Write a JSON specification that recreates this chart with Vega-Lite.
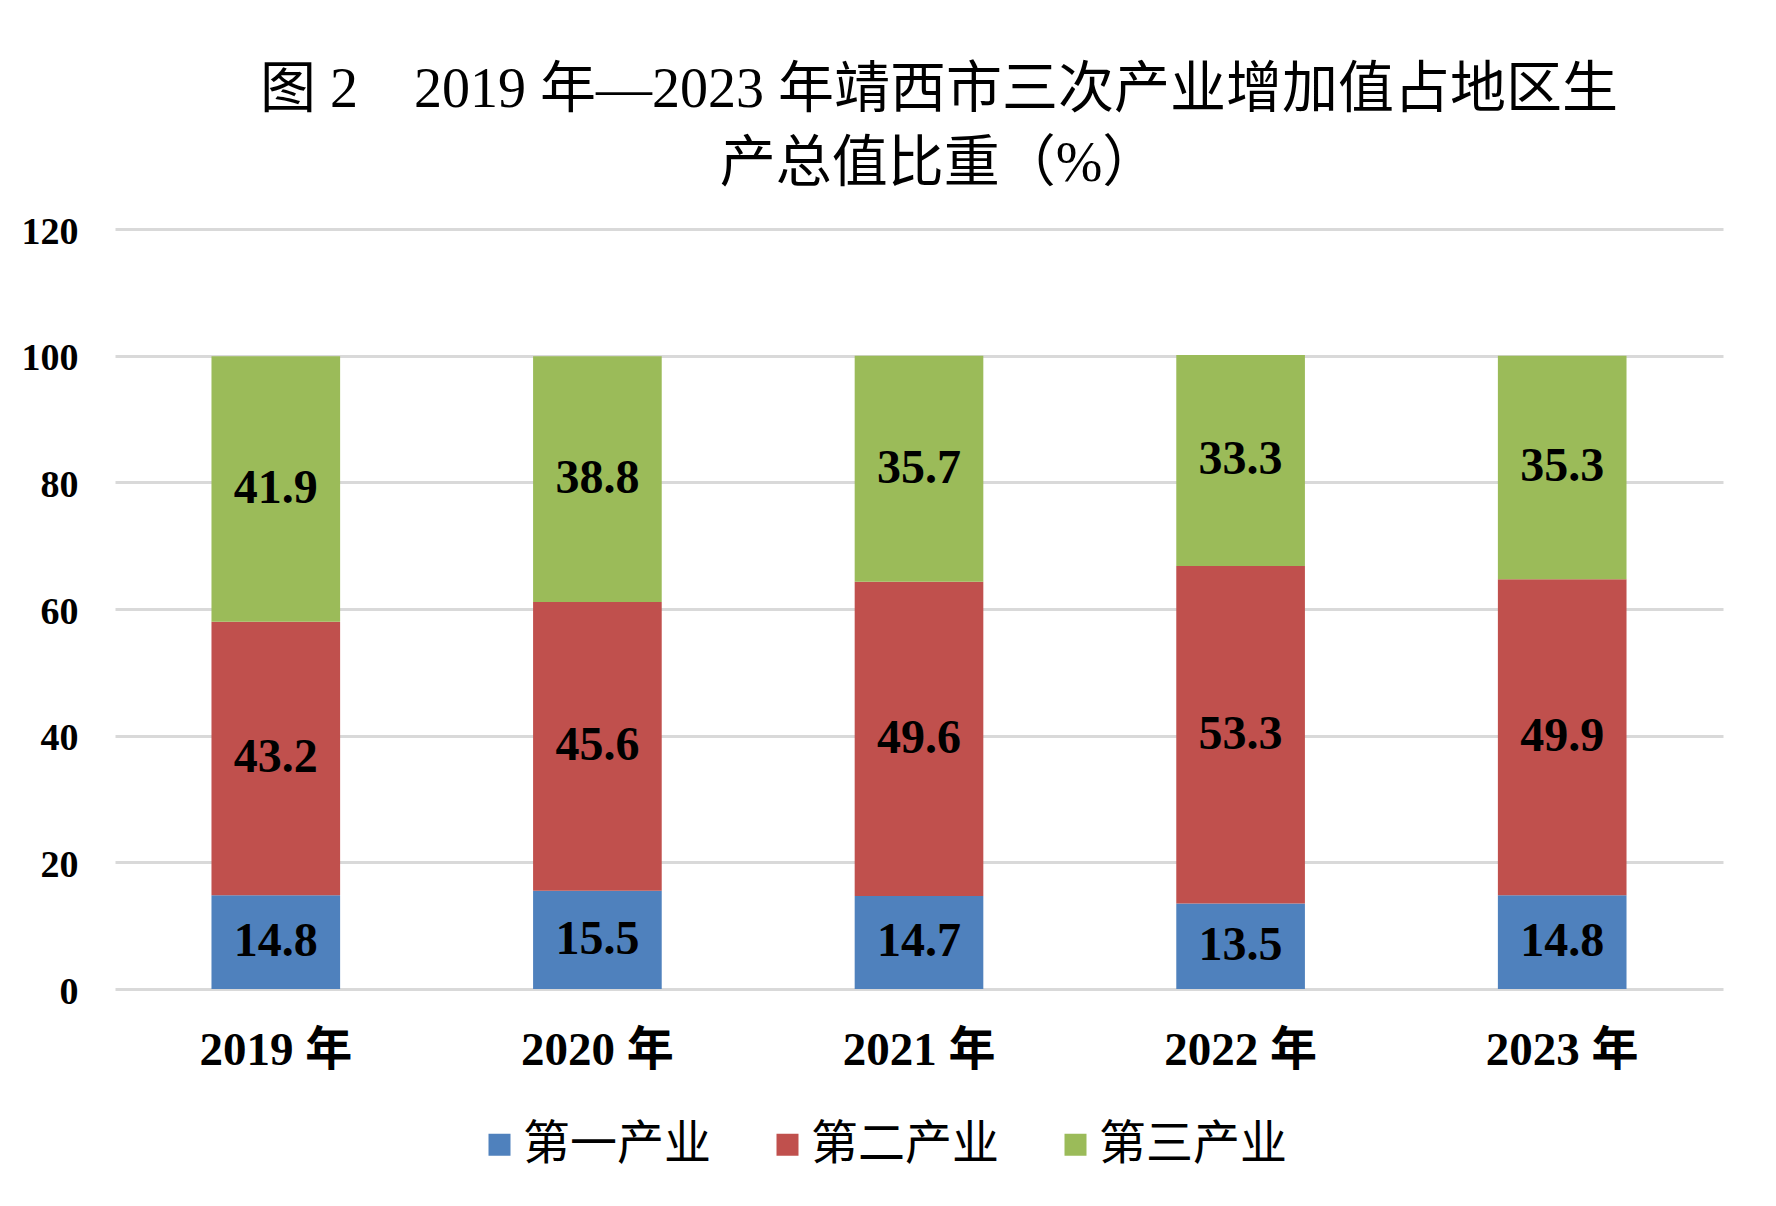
{
  "$schema": "https://vega.github.io/schema/vega-lite/v6.json",
  "autosize": "none",
  "width": 1608,
  "height": 760,
  "padding": {"left": 115, "top": 229, "right": 53, "bottom": 217},
  "background": "white",
  "title": {
    "text": ["图 2　2019 年—2023 年靖西市三次产业增加值占地区生", "产总值比重（%）"],
    "font": "Liberation Serif, Noto Sans CJK SC",
    "fontSize": 56,
    "fontWeight": "normal",
    "color": "black",
    "lineHeight": 74,
    "offset": 20,
    "anchor": "middle",
    "dx": 20
  },
  "data": {
    "values": [
      {"year": "2019 年", "industry": "第一产业", "idx": 1, "value": 14.8},
      {"year": "2019 年", "industry": "第二产业", "idx": 2, "value": 43.2},
      {"year": "2019 年", "industry": "第三产业", "idx": 3, "value": 41.9},
      {"year": "2020 年", "industry": "第一产业", "idx": 1, "value": 15.5},
      {"year": "2020 年", "industry": "第二产业", "idx": 2, "value": 45.6},
      {"year": "2020 年", "industry": "第三产业", "idx": 3, "value": 38.8},
      {"year": "2021 年", "industry": "第一产业", "idx": 1, "value": 14.7},
      {"year": "2021 年", "industry": "第二产业", "idx": 2, "value": 49.6},
      {"year": "2021 年", "industry": "第三产业", "idx": 3, "value": 35.7},
      {"year": "2022 年", "industry": "第一产业", "idx": 1, "value": 13.5},
      {"year": "2022 年", "industry": "第二产业", "idx": 2, "value": 53.3},
      {"year": "2022 年", "industry": "第三产业", "idx": 3, "value": 33.3},
      {"year": "2023 年", "industry": "第一产业", "idx": 1, "value": 14.8},
      {"year": "2023 年", "industry": "第二产业", "idx": 2, "value": 49.9},
      {"year": "2023 年", "industry": "第三产业", "idx": 3, "value": 35.3}
    ]
  },
  "encoding": {
    "x": {
      "field": "year",
      "type": "nominal",
      "sort": null,
      "scale": {"paddingInner": 0.6, "paddingOuter": 0.3},
      "axis": {
        "title": null,
        "labelAngle": 0,
        "labelFont": "Liberation Serif, Noto Sans CJK SC",
        "labelFontSize": 47,
        "labelFontWeight": "bold",
        "labelColor": "black",
        "labelPadding": 38,
        "ticks": false,
        "domain": false
      }
    }
  },
  "layer": [
    {
      "mark": {"type": "bar"},
      "encoding": {
        "y": {
          "field": "value",
          "type": "quantitative",
          "stack": "zero",
          "scale": {"domain": [0, 120]},
          "axis": {
            "title": null,
            "values": [0, 20, 40, 60, 80, 100, 120],
            "labelFont": "Liberation Serif",
            "labelFontSize": 38,
            "labelFontWeight": "bold",
            "labelColor": "black",
            "labelPadding": 37,
            "labelOffset": 3,
            "ticks": false,
            "domain": false,
            "grid": true,
            "gridColor": "#d9d9d9",
            "gridWidth": 3
          }
        },
        "color": {
          "field": "industry",
          "type": "nominal",
          "sort": ["第一产业", "第二产业", "第三产业"],
          "scale": {
            "domain": ["第一产业", "第二产业", "第三产业"],
            "range": ["#4f81bd", "#c0504d", "#9bbb59"]
          },
          "legend": {
            "title": null,
            "orient": "none",
            "direction": "horizontal",
            "legendX": 361,
            "legendY": 892,
            "padding": 0,
            "symbolType": "square",
            "symbolSize": 484,
            "symbolStrokeWidth": 0,
            "symbolOpacity": 1,
            "labelFont": "Noto Sans CJK SC",
            "labelFontSize": 47,
            "labelColor": "black",
            "labelOffset": 0,
            "columnPadding": 53,
            "labelLimit": 400
          }
        },
        "order": {"field": "idx", "type": "quantitative"}
      }
    },
    {
      "mark": {
        "type": "text",
        "font": "Liberation Serif",
        "fontSize": 48,
        "fontWeight": "bold",
        "color": "black",
        "baseline": "middle",
        "align": "center"
      },
      "encoding": {
        "y": {
          "field": "value",
          "type": "quantitative",
          "stack": "zero",
          "bandPosition": 0.5
        },
        "detail": {"field": "industry", "type": "nominal"},
        "order": {"field": "idx", "type": "quantitative"},
        "text": {"field": "value", "type": "quantitative", "format": ".1f"}
      }
    }
  ],
  "config": {
    "view": {"stroke": null}
  }
}
